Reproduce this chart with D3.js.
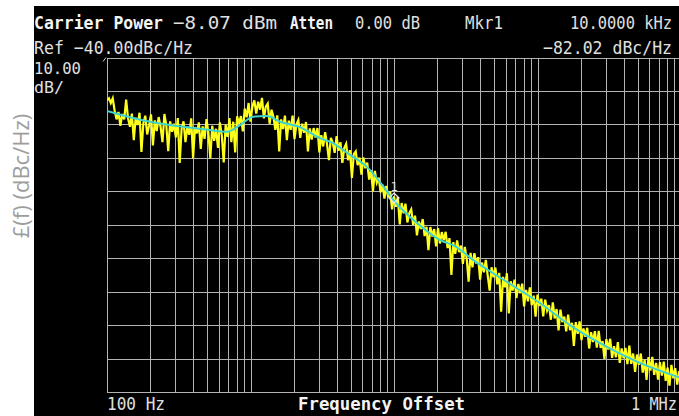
<!DOCTYPE html>
<html>
<head>
<meta charset="utf-8">
<script src="https://cdn.jsdelivr.net/npm/d3@7"></script>
<style>
  html, body { margin: 0; padding: 0; background: #fff; }
  svg { display: block; }
</style>
</head>
<body>
<svg id="chart" width="679" height="416"></svg>
<script>
// Phase-noise sweep: single-sideband noise L(f) vs. offset frequency

// sweep settings
const sweepStart = 100;        // Hz
const sweepStop = 1e6;         // Hz
const pointsPerDecade = 75;
const refLevel = -40;          // dBc/Hz at top graticule line
const dbPerDiv = 10;
const numDivs = 10;

// axis end labels
const xEndLabels = ["100 Hz", "1 MHz"];
const xTitle = "Frequency Offset";
const yTitle = "£(f) (dBc/Hz)";

// annotation text
const headerLine1 = ["Carrier Power", "\u22128.07 dBm", "Atten", "0.00 dB", "Mkr1", "10.0000 kHz"];
const headerLine2 = ["Ref \u221240.00dBc/Hz", "\u221282.02 dBc/Hz"];
const scaleLabel = ["10.00", "dB/"];

// smoothed trace (Hz, dBc/Hz)
const smoothFreq = [100, 152, 200, 339, 522, 686, 845, 1041, 1303, 1606, 2213, 3050, 3758, 4935,
  6484, 8937, 10000, 14460, 20930, 26600, 35550, 61240, 104000, 176600, 304800, 517800, 1000000];
const smoothDb = [-56.0, -58.1, -59.2, -60.7, -61.7, -62.2, -60.2, -57.7, -57.5, -59.2, -60.8, -64.1, -65.6, -69.1,
  -72.7, -80.0, -82.8, -89.5, -94.6, -96.4, -100.5, -107.1, -113.4, -120.6, -126.5, -131.3, -135.8];

// raw trace, one reading per sweep point (dBc/Hz)
const rawDb = [
  -52.8, -52.2, -53.6, -52.2, -55.9, -58.5, -56.3, -60.4, -56.9, -58.5,
  -52.6, -58.2, -60.7, -56.8, -64.7, -58.0, -60.2, -56.5, -68.2, -59.6,
  -57.4, -63.0, -60.3, -57.0, -66.3, -58.8, -62.0, -57.8, -60.7, -65.3,
  -56.9, -60.3, -68.0, -59.1, -62.2, -59.8, -63.9, -58.1, -71.5, -61.2,
  -59.1, -65.3, -60.7, -63.1, -58.2, -70.1, -60.8, -62.7, -59.4, -67.3,
  -60.6, -64.3, -58.4, -62.5, -70.2, -60.4, -64.9, -61.3, -67.0, -59.4,
  -63.3, -71.4, -60.1, -63.7, -58.1, -65.3, -59.2, -68.4, -57.6, -59.8,
  -57.5, -62.1, -55.3, -57.9, -53.6, -59.2, -54.6, -52.8, -56.8, -53.2,
  -55.6, -52.1, -58.2, -54.7, -53.8, -59.8, -55.6, -57.8, -61.6, -57.3,
  -68.1, -58.5, -61.4, -57.4, -64.7, -58.9, -61.6, -57.4, -64.4, -60.0,
  -58.7, -64.0, -59.8, -62.5, -59.3, -68.1, -61.2, -64.5, -61.1, -63.9,
  -61.1, -68.4, -63.2, -66.6, -62.3, -65.9, -70.7, -64.0, -65.5, -68.5,
  -63.5, -67.9, -65.3, -71.5, -67.1, -65.8, -70.7, -67.7, -76.0, -68.9,
  -68.1, -72.2, -69.9, -75.0, -69.9, -73.1, -71.4, -76.5, -73.7, -80.0,
  -73.9, -77.4, -75.9, -80.3, -78.0, -82.2, -78.4, -81.8, -80.1, -85.4,
  -81.5, -84.6, -81.7, -89.9, -83.5, -86.6, -83.7, -89.3, -86.5, -85.4,
  -90.0, -87.3, -93.2, -89.0, -91.3, -88.3, -93.4, -90.6, -97.6, -90.7,
  -93.5, -91.3, -96.5, -91.0, -95.6, -92.2, -94.6, -92.1, -97.0, -94.0,
  -105.0, -95.2, -98.7, -94.7, -98.2, -96.2, -101.7, -96.6, -100.1, -107.0,
  -98.4, -102.7, -98.5, -101.6, -99.7, -106.4, -101.3, -104.2, -100.5, -105.3,
  -109.7, -102.7, -105.7, -102.8, -107.8, -104.4, -116.0, -105.6, -108.7, -104.5,
  -116.5, -106.9, -109.7, -106.4, -111.9, -107.7, -110.5, -107.6, -114.4, -109.5,
  -112.9, -108.7, -114.0, -111.2, -117.5, -110.9, -114.3, -112.1, -117.4, -112.4,
  -115.6, -114.0, -118.4, -113.2, -118.0, -115.2, -121.6, -115.4, -119.1, -117.5,
  -121.9, -116.9, -121.5, -119.3, -126.2, -119.1, -122.6, -118.9, -124.5, -121.0,
  -123.5, -120.8, -127.0, -122.1, -125.1, -121.8, -126.7, -121.7, -126.8, -124.8,
  -130.1, -124.2, -127.3, -124.1, -129.8, -126.3, -129.6, -125.1, -131.3, -127.0,
  -129.9, -126.8, -131.7, -126.1, -131.6, -128.5, -134.0, -128.8, -131.9, -128.5,
  -134.2, -130.4, -136.4, -129.6, -133.6, -129.5, -134.9, -131.3, -136.3, -131.1,
  -135.1, -130.9, -136.7, -132.7, -138.1, -131.9, -135.9, -132.9, -137.8, -133.8,
  -137.3
];

// marker 1
const markerFreq = 10000;
const markerDb = -82.02;
const markerName = "1";

// ---------------------------------------------------------------------------
const W = 679, H = 416;
const screen = { left: 34, top: 6 };
const plot = { left: 107, right: 681, top: 57.5, bottom: 392 };

const svg = d3.select("#chart");

const x = d3.scaleLog().domain([sweepStart, sweepStop]).range([plot.left, plot.right]);
const y = d3.scaleLinear()
  .domain([refLevel, refLevel - dbPerDiv * numDivs])
  .range([plot.top, plot.bottom]);

// instrument screen
svg.append("rect")
  .attr("x", screen.left).attr("y", screen.top)
  .attr("width", W - screen.left).attr("height", H - screen.top)
  .attr("fill", "#000");

svg.append("defs").append("clipPath").attr("id", "plotClip")
  .append("rect")
  .attr("x", plot.left).attr("y", plot.top - 20)
  .attr("width", W - plot.left).attr("height", plot.bottom - plot.top + 40);

// graticule
const gridColor = "#b4b4b4";
const xGrid = d3.axisBottom(x)
  .ticks(40)
  .tickSize(-(plot.bottom - plot.top))
  .tickFormat("");
svg.append("g")
  .attr("transform", `translate(0,${plot.bottom})`)
  .call(xGrid)
  .call(g => g.select(".domain").remove())
  .call(g => g.selectAll("line").attr("stroke", gridColor).attr("stroke-width", 1)
    .attr("shape-rendering", "crispEdges"));

const yGrid = d3.axisLeft(y)
  .ticks(numDivs)
  .tickSize(-(plot.right - plot.left))
  .tickFormat("");
svg.append("g")
  .attr("transform", `translate(${plot.left},0)`)
  .call(yGrid)
  .call(g => g.select(".domain").remove())
  .call(g => g.selectAll("line").attr("stroke", gridColor).attr("stroke-width", 1)
    .attr("shape-rendering", "crispEdges"));

// reference level tick at top-left corner
svg.append("line")
  .attr("x1", plot.left - 4).attr("y1", plot.top + 4)
  .attr("x2", plot.left - 1).attr("y2", plot.top)
  .attr("stroke", "#ccc").attr("stroke-width", 1);

// traces
const traceG = svg.append("g").attr("clip-path", "url(#plotClip)");

const sweepFreq = rawDb.map((_, i) => sweepStart * Math.pow(10, i / pointsPerDecade));
const rawLine = d3.line()
  .x((d, i) => x(sweepFreq[i]))
  .y(d => y(d));
traceG.append("path")
  .datum(rawDb)
  .attr("d", rawLine)
  .attr("fill", "none")
  .attr("stroke", "#ffff1c")
  .attr("stroke-width", 2.2)
  .attr("stroke-linejoin", "miter");

const smoothLine = d3.line()
  .x((d, i) => x(smoothFreq[i]))
  .y(d => y(d))
  .curve(d3.curveMonotoneX);
traceG.append("path")
  .datum(smoothDb)
  .attr("d", smoothLine)
  .attr("fill", "none")
  .attr("stroke", "#3ad3cf")
  .attr("stroke-width", 2);

// marker
const mx = x(markerFreq), my = y(markerDb);
const dm = 5;
svg.append("path")
  .attr("d", `M${mx},${my - dm}L${mx + dm},${my}L${mx},${my + dm}L${mx - dm},${my}Z`)
  .attr("fill", "none")
  .attr("stroke", "#e8e8e8")
  .attr("stroke-width", 1.3);
svg.append("text")
  .attr("x", mx).attr("y", my - 7)
  .attr("text-anchor", "middle")
  .attr("font-family", "DejaVu Sans Mono, monospace")
  .attr("font-size", 12)
  .attr("fill", "#e8e8e8")
  .text(markerName);

// screen text: monospaced, glyphs stretched a little taller by default
function screenText(str, px, py, width, opts = {}) {
  const left = opts.anchor === "end" ? px - width : px;
  const sy = opts.flat ? 1 : 1.15;
  return svg.append("text")
    .attr("transform", `translate(${left},${py}) scale(1,${sy})`)
    .attr("x", 0).attr("y", 0)
    .attr("font-family", "DejaVu Sans Mono, Liberation Mono, monospace")
    .attr("font-size", 16)
    .attr("font-weight", opts.bold ? "bold" : "normal")
    .attr("fill", opts.bold ? "#f4f4f4" : "#e0e0e0")
    .attr("textLength", width)
    .attr("lengthAdjust", "spacingAndGlyphs")
    .text(str);
}

screenText(headerLine1[0], 34, 29, 129, { bold: true });
screenText(headerLine1[1], 173, 29, 104);
screenText(headerLine1[2], 290, 29, 43, { bold: true });
screenText(headerLine1[3], 355, 29, 65);
screenText(headerLine1[4], 465, 29, 38);
screenText(headerLine1[5], 672, 29, 102, { anchor: "end" });

screenText(headerLine2[0], 34, 54, 159);
screenText(headerLine2[1], 672, 54, 129, { anchor: "end" });

screenText(scaleLabel[0], 34, 74, 47, { flat: true });
screenText(scaleLabel[1], 34, 93, 30, { flat: true });

screenText(xEndLabels[0], x(sweepStart), 410, 58);
screenText(xTitle, 298, 410, 167, { bold: true });
screenText(xEndLabels[1], 677, 410, 46, { anchor: "end" });

// y axis title outside the instrument screen
svg.append("text")
  .attr("transform", `translate(29,176) rotate(-90)`)
  .attr("text-anchor", "middle")
  .attr("font-family", "Open Sans, Noto Sans, sans-serif")
  .attr("font-size", 22)
  .attr("fill", "#9d9d9d")
  .text(yTitle);
</script>
</body>
</html>
